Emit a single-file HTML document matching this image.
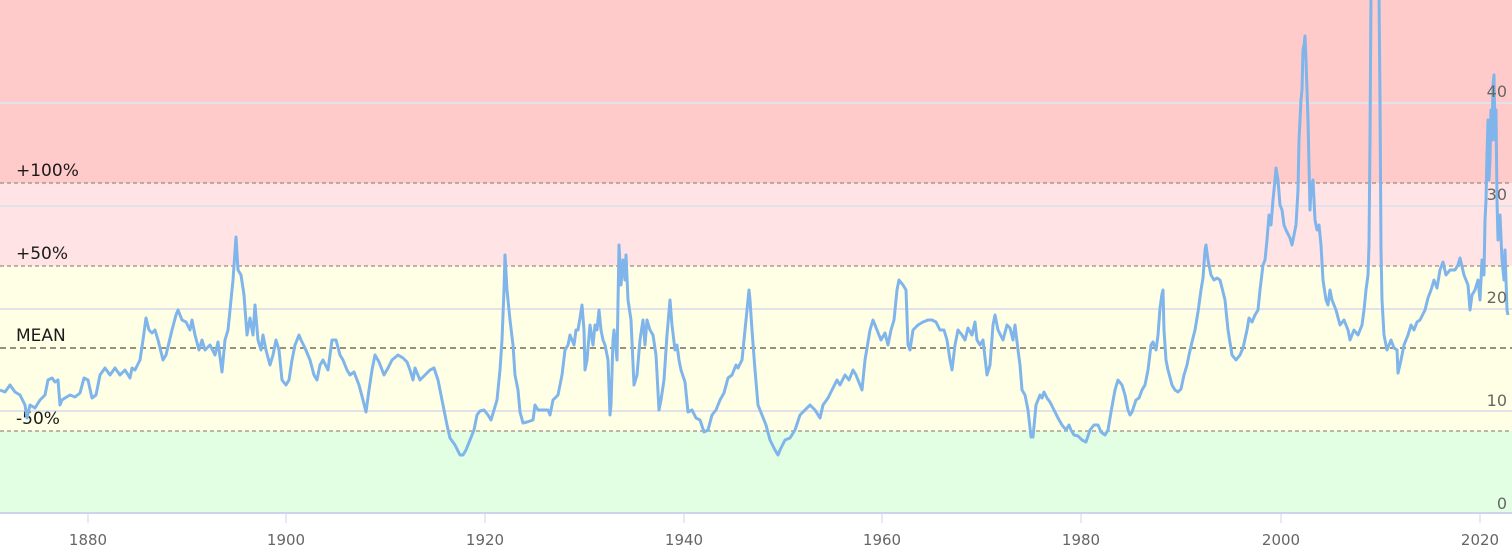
<!DOCTYPE html>
<html><head><meta charset="utf-8"><style>
html,body{margin:0;padding:0;background:#fff;}
svg{display:block;font-family:"DejaVu Sans","Liberation Sans",sans-serif;}
</style></head><body>
<svg width="1512" height="559" viewBox="0 0 1512 559" xmlns="http://www.w3.org/2000/svg">
<rect x="0" y="0" width="1512" height="183" fill="#ffcbca"/>
<rect x="0" y="183" width="1512" height="83" fill="#ffe3e5"/>
<rect x="0" y="266" width="1512" height="165" fill="#ffffe5"/>
<rect x="0" y="431" width="1512" height="82" fill="#e3ffe3"/>
<g stroke="#e2e2ea" stroke-width="2">
<line x1="0" y1="103" x2="1512" y2="103"/><line x1="0" y1="206" x2="1512" y2="206"/>
<line x1="0" y1="309" x2="1512" y2="309"/><line x1="0" y1="411" x2="1512" y2="411"/>
</g>
<g stroke="#9b8c80" stroke-dasharray="4,3" stroke-width="1.3">
<line x1="0" y1="183" x2="1512" y2="183"/><line x1="0" y1="266" x2="1512" y2="266"/>
<line x1="0" y1="431" x2="1512" y2="431"/></g>
<line x1="0" y1="348" x2="1512" y2="348" stroke="#99917a" stroke-dasharray="6,4" stroke-width="2"/>
<line x1="0" y1="513" x2="1512" y2="513" stroke="#ccd6eb" stroke-width="2"/>
<g stroke="#ccd6eb" stroke-width="1">
<line x1="88" y1="513" x2="88" y2="523"/><line x1="286" y1="513" x2="286" y2="523"/><line x1="485" y1="513" x2="485" y2="523"/><line x1="684" y1="513" x2="684" y2="523"/><line x1="882" y1="513" x2="882" y2="523"/><line x1="1081" y1="513" x2="1081" y2="523"/><line x1="1281" y1="513" x2="1281" y2="523"/><line x1="1480" y1="513" x2="1480" y2="523"/></g>
<g font-size="17" fill="#1a1a1a">
<text x="16" y="176">+100%</text><text x="16" y="259">+50%</text><text x="16" y="341">MEAN</text><text x="16" y="424">-50%</text></g>
<polyline fill="none" stroke="#7fb5ea" stroke-width="3" stroke-linejoin="round" points="0,390 5,392 10,385 15,392 20,395 25,405 27,418 30,405 35,408 40,400 45,395 48,380 52,378 55,382 58,380 60,405 62,400 65,398 70,395 75,397 80,393 84,378 88,380 92,398 96,395 100,375 105,368 110,375 115,368 120,375 125,370 130,378 132,368 135,370 140,360 143,340 146,318 149,330 152,333 155,330 158,340 163,360 166,355 172,330 176,315 178,310 182,320 186,322 190,330 192,320 195,335 199,350 202,340 205,350 210,345 215,355 218,342 222,372 225,340 228,330 230,310 233,280 236,237 238,270 241,275 244,295 247,335 250,318 253,335 255,305 258,340 261,350 263,335 266,350 270,365 273,355 276,340 279,350 282,380 286,385 289,380 292,360 295,345 299,335 301,340 305,348 310,360 314,375 317,380 320,365 323,360 328,370 332,340 336,340 340,355 343,360 347,370 350,375 354,372 359,385 363,400 366,412 369,390 372,370 375,355 379,362 384,375 388,368 392,360 398,355 403,358 407,362 410,370 413,380 415,368 420,380 425,375 430,370 434,368 438,380 442,400 447,425 450,438 455,445 460,455 463,455 466,450 470,440 474,430 477,415 480,411 484,410 488,415 491,420 494,410 497,400 500,370 502,340 504,290 505,255 507,290 510,320 513,345 515,375 518,390 520,412 523,423 527,422 533,420 535,405 538,410 542,410 548,410 550,415 553,400 558,395 562,375 565,350 568,345 570,335 574,345 576,330 578,330 580,318 582,305 584,330 585,370 587,360 590,325 593,345 595,325 597,330 599,310 601,330 603,340 605,345 608,360 610,415 611,405 613,340 614,330 617,360 619,245 621,285 623,260 625,280 626,255 628,300 631,320 634,385 637,375 640,340 643,320 645,345 647,320 650,330 653,335 656,355 659,410 661,400 664,380 667,335 670,300 672,325 675,350 677,345 679,360 681,370 685,382 688,412 692,410 696,418 700,420 704,432 708,430 712,415 716,410 720,400 724,393 728,378 732,375 736,365 738,368 742,360 745,330 747,310 749,290 750,300 752,330 755,370 758,405 762,415 766,425 770,440 775,450 778,455 780,450 785,440 790,438 795,430 800,415 805,410 810,405 815,410 820,418 823,405 828,398 833,388 837,380 840,385 845,375 849,380 853,370 856,375 860,385 862,390 865,360 870,330 873,320 877,330 881,340 885,333 888,345 891,330 894,320 897,290 899,280 903,285 906,290 908,345 910,350 913,330 918,325 923,322 928,320 932,320 936,322 940,330 944,330 947,340 950,360 952,370 955,345 958,330 962,335 965,340 968,328 972,335 975,322 977,340 980,345 983,340 987,375 990,365 993,325 995,315 998,330 1003,340 1007,325 1010,328 1013,340 1015,325 1018,350 1020,365 1022,390 1025,395 1028,410 1031,437 1033,437 1036,405 1040,395 1042,398 1044,392 1047,398 1050,402 1054,410 1058,418 1062,425 1066,430 1069,425 1071,430 1074,435 1078,436 1082,440 1086,442 1090,430 1094,425 1098,425 1101,432 1105,435 1108,430 1111,412 1115,390 1118,380 1122,385 1125,395 1128,410 1130,415 1132,412 1136,400 1139,398 1142,390 1145,385 1148,370 1151,345 1153,342 1156,350 1158,335 1160,308 1162,294 1163,290 1164,330 1166,360 1168,370 1172,385 1175,390 1178,392 1181,389 1184,375 1187,365 1189,355 1192,342 1195,330 1198,312 1201,290 1203,278 1205,250 1206,245 1208,260 1211,275 1214,280 1217,278 1220,280 1222,288 1225,300 1228,330 1232,355 1236,360 1240,355 1243,348 1247,330 1249,318 1252,322 1255,315 1258,310 1260,290 1263,265 1265,260 1267,240 1269,215 1271,225 1273,200 1275,180 1276,168 1278,180 1280,205 1282,210 1284,225 1286,230 1290,238 1292,245 1294,235 1296,225 1298,190 1299,140 1301,100 1302,90 1303,50 1304,45 1305,36 1306,60 1308,120 1310,210 1311,190 1313,180 1315,220 1317,230 1319,225 1321,245 1323,280 1326,300 1328,305 1330,290 1332,300 1336,310 1340,325 1344,320 1348,330 1350,340 1354,330 1358,335 1362,325 1364,310 1366,290 1368,275 1369,245 1370,140 1371,-5 1379,-5 1380,100 1381,250 1382,300 1384,335 1387,350 1391,340 1394,348 1397,350 1398,373 1401,360 1404,345 1408,335 1411,325 1414,330 1417,322 1420,320 1425,310 1428,298 1431,290 1434,280 1437,288 1440,270 1443,262 1446,275 1450,270 1455,270 1458,265 1460,258 1464,275 1468,285 1470,310 1472,295 1475,290 1478,280 1480,300 1482,260 1484,275 1485,220 1486,200 1487,155 1488,120 1489,180 1490,160 1491,110 1492,140 1493,85 1494,75 1495,140 1496,110 1497,200 1498,240 1500,215 1502,260 1504,280 1505,250 1507,310 1508,315"/>
<g font-size="16" fill="#666" text-anchor="end">
<text x="1507" y="97">40</text><text x="1507" y="200">30</text><text x="1507" y="303">20</text><text x="1507" y="406">10</text><text x="1507" y="509">0</text></g>
<g font-size="15" fill="#666" text-anchor="middle">
<text x="88" y="545">1880</text><text x="286" y="545">1900</text><text x="485" y="545">1920</text><text x="684" y="545">1940</text><text x="882" y="545">1960</text><text x="1081" y="545">1980</text><text x="1281" y="545">2000</text><text x="1480" y="545">2020</text></g>
</svg>
</body></html>
